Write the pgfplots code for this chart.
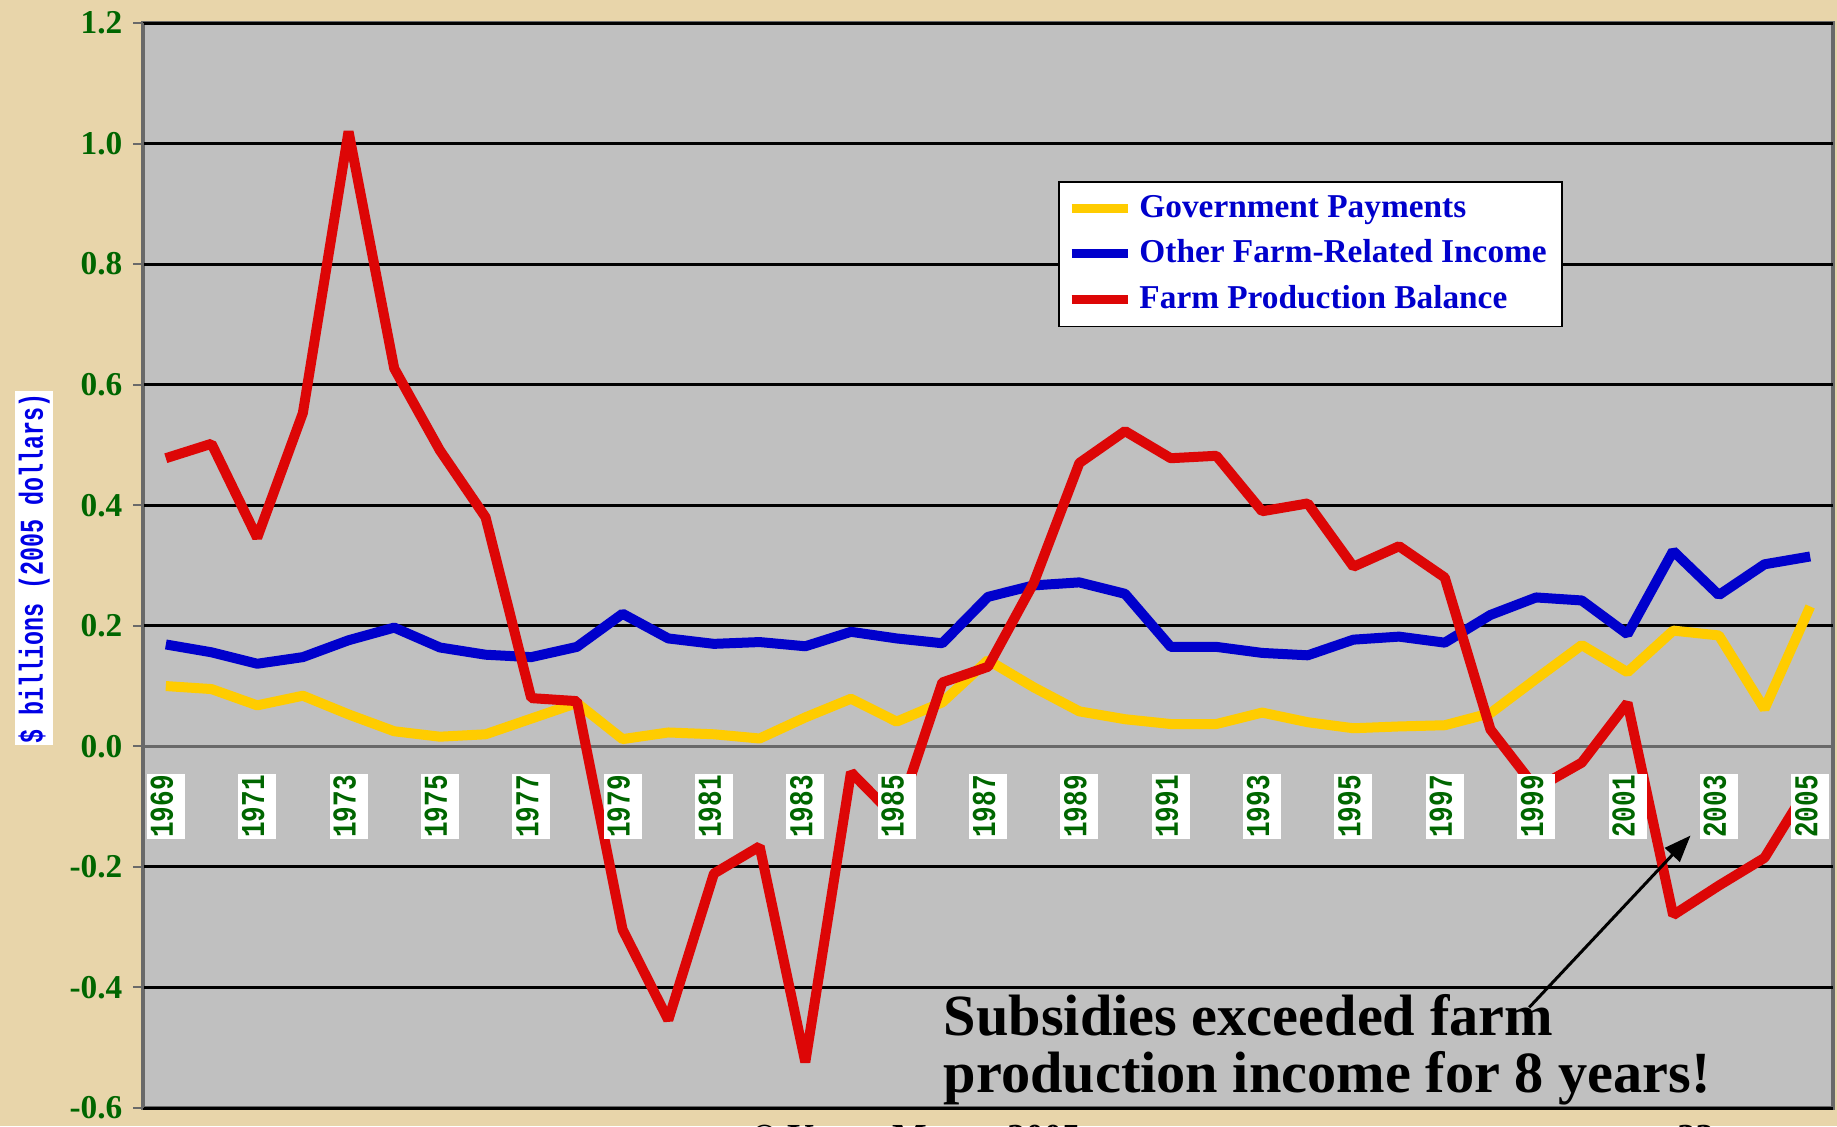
\documentclass[border=0pt]{standalone}
\usepackage{fontspec}
\setmainfont{Liberation Serif}
\newfontfamily\monofont{Liberation Mono}
\usepackage{graphicx}
\usepackage{pgfplots}
\usepackage{pgfplotstable}
\pgfplotsset{compat=1.18}
\usetikzlibrary{arrows.meta}

\definecolor{parchment}{RGB}{232,213,170}
\definecolor{plotgray}{RGB}{192,192,192}
\definecolor{framegray}{RGB}{105,105,105}
\definecolor{govyellow}{RGB}{255,204,0}
\definecolor{otherblue}{RGB}{0,0,204}
\definecolor{farmred}{RGB}{221,6,6}
\definecolor{tickgreen}{RGB}{0,102,0}
\definecolor{labelblue}{RGB}{0,0,230}

\newcommand{\yr}[1]{\scalebox{0.78}[1]{#1}}

% shared placement of the two overlaid axes
\pgfplotsset{
  farmframe/.style={
    scale only axis,
    width=507pt, height=325.5pt,
    at={(42.9pt,5.4pt)}, anchor=south west,
    xmin=1968.5, xmax=2005.5,
    ymin=-0.6, ymax=1.2,
    axis x line*=middle,
    hide obscured x ticks=false,
    hide obscured y ticks=false,
    tick align=outside,
    major tick length=3pt,
    minor tick length=2.6pt,
  },
}

% $ billions (2005 dollars)
\pgfplotstableread{
year gov   other farm
1969 0.100 0.169  0.478
1970 0.095 0.156  0.502
1971 0.068 0.137  0.346
1972 0.084 0.148  0.553
1973 0.053 0.176  1.020
1974 0.025 0.197  0.627
1975 0.016 0.164  0.491
1976 0.020 0.152  0.380
1977 0.046 0.148  0.080
1978 0.072 0.165  0.075
1979 0.012 0.220 -0.304
1980 0.023 0.179 -0.454
1981 0.020 0.170 -0.211
1982 0.013 0.173 -0.166
1983 0.048 0.166 -0.524
1984 0.079 0.190 -0.043
1985 0.041 0.179 -0.120
1986 0.073 0.171  0.106
1987 0.143 0.248  0.132
1988 0.098 0.267  0.271
1989 0.058 0.272  0.470
1990 0.045 0.253  0.523
1991 0.037 0.165  0.478
1992 0.037 0.165  0.482
1993 0.056 0.155  0.390
1994 0.040 0.151  0.403
1995 0.030 0.177  0.298
1996 0.033 0.182  0.332
1997 0.035 0.172  0.280
1998 0.055 0.218  0.028
1999 0.112 0.247 -0.070
2000 0.168 0.242 -0.027
2001 0.123 0.186  0.072
2002 0.192 0.324 -0.280
2003 0.184 0.251 -0.231
2004 0.062 0.302 -0.185
2005 0.232 0.315 -0.062
}\farmdata

\begin{document}
\begin{tikzpicture}
\fill[parchment] (0,0) rectangle (551.1pt,337.8pt);

\begin{axis}[
  farmframe,
  axis y line*=left,
  axis line style={framegray, line width=0.7pt},
  axis background/.style={fill=plotgray, draw=framegray, line width=1.2pt},
  tick style={framegray, line width=0.6pt},
  xtick=\empty,
  minor xtick={1968.5,1969.5,...,2005.5},
  ytick={-0.6,-0.4,-0.2,0.2,0.4,0.6,0.8,1.0,1.2},
  yticklabels={-0.6,-0.4,-0.2,0.2,0.4,0.6,0.8,1.0,1.2},
  extra y ticks={0},
  extra y tick labels={0.0},
  extra y tick style={grid=none},
  yticklabel style={font=\bfseries\fontsize{10}{12}\selectfont,
    text=tickgreen, inner sep=0pt, xshift=-3pt},
  ymajorgrids,
  major grid style={black, line width=0.9pt},
  ylabel={\scalebox{0.7}[1]{\$ billions (2005 dollars)}},
  ylabel style={at={(axis description cs:-0.0645,0.4977)}, anchor=center,
    font=\monofont\bfseries\fontsize{10}{12}\selectfont, text=labelblue,
    fill=white, inner xsep=0.5pt, inner ysep=1pt},
  legend style={at={(0.5414,0.8544)}, anchor=north west, draw=black,
    fill=white, line width=0.5pt, text=otherblue,
    font=\bfseries\fontsize{10}{12}\selectfont,
    inner xsep=2.5pt, inner ysep=2pt, row sep=1.2pt,
    cells={anchor=west}},
  legend image code/.code={\draw[#1, line width=2.7pt] (0pt,0pt) -- (17pt,0pt);},
  every axis plot/.append style={mark=none, line width=3pt, line join=bevel},
]
\addplot[govyellow] table[x=year, y=gov] {\farmdata};
\addlegendentry{Government Payments}
\addplot[otherblue] table[x=year, y=other] {\farmdata};
\addlegendentry{Other Farm-Related Income}
\addplot[farmred] table[x=year, y=farm] {\farmdata};
\addlegendentry{Farm Production Balance}

\node[anchor=base west, inner sep=0pt, font=\bfseries\fontsize{17.5}{21}\selectfont]
  at (axis cs:1986.02,-0.479) {Subsidies exceeded farm};
\node[anchor=base west, inner sep=0pt, font=\bfseries\fontsize{17.5}{21}\selectfont]
  at (axis cs:1986.02,-0.575) {production income for 8 years!};
\draw[line width=0.9pt, -{Triangle[length=8pt, width=6pt]}]
  (axis cs:1998.85,-0.433) -- (axis cs:2002.38,-0.148);
\end{axis}

% year labels in a second axis so that they sit on top of the lines
\begin{axis}[
  farmframe,
  axis y line=none,
  axis line style={draw=none},
  tick style={draw=none},
  ytick=\empty,
  xtick={1969,1971,...,2005},
  xticklabels={\yr{1969},\yr{1971},\yr{1973},\yr{1975},\yr{1977},\yr{1979},
    \yr{1981},\yr{1983},\yr{1985},\yr{1987},\yr{1989},\yr{1991},\yr{1993},
    \yr{1995},\yr{1997},\yr{1999},\yr{2001},\yr{2003},\yr{2005}},
  xticklabel style={font=\monofont\bfseries\fontsize{10}{12}\selectfont,
    text=tickgreen, fill=white, inner xsep=0.5pt, inner ysep=1pt,
    text height=6.8pt, text depth=2.6pt,
    yshift=-5pt, rotate=90, anchor=east},
]
\end{axis}

% footer, cut off by the bottom edge as in the slide
\node[anchor=base west, inner sep=0pt, font=\bfseries\fontsize{11}{13}\selectfont]
  at (225pt,-7pt) {\textcopyright{} Kerry Mason 2005};
\node[anchor=base west, inner sep=0pt, font=\bfseries\fontsize{11}{13}\selectfont]
  at (503pt,-7pt) {33};

\pgfresetboundingbox
\path[use as bounding box] (0,0) rectangle (551.1pt,337.8pt);
\end{tikzpicture}
\end{document}
